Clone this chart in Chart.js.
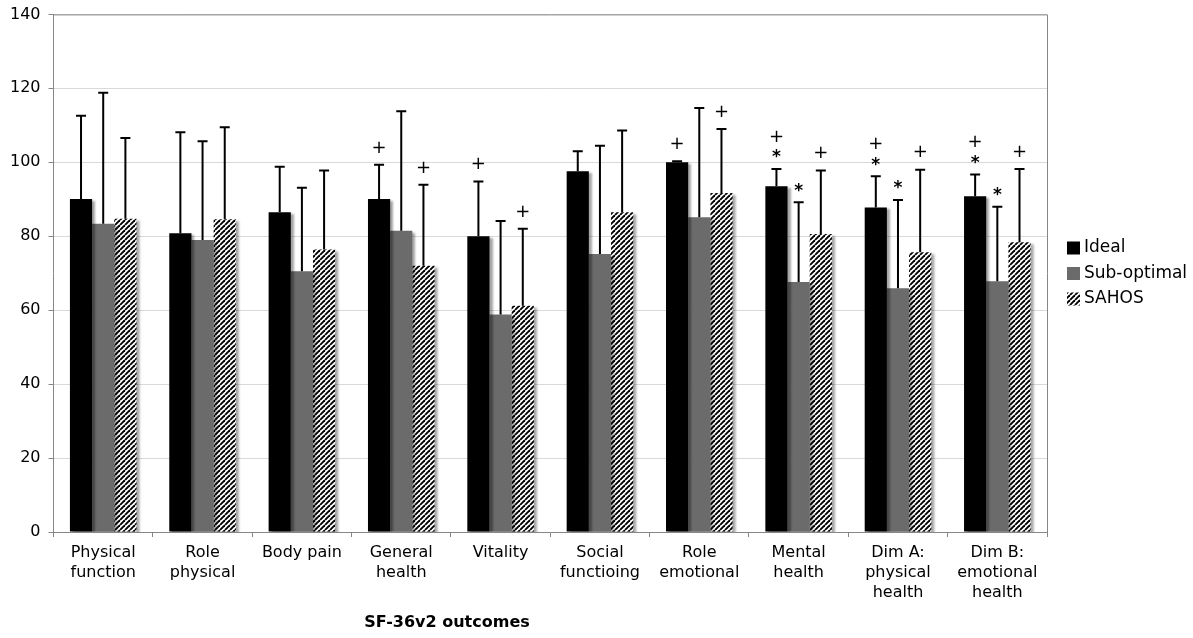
<!DOCTYPE html>
<html>
<head>
<meta charset="utf-8">
<script src="https://cdn.jsdelivr.net/npm/chart.js@4.4.1/dist/chart.umd.min.js"></script>
<style>
  html, body { margin: 0; padding: 0; background: #fff; }
  #wrap { width: 1193px; height: 638px; }
</style>
</head>
<body>
<div id="wrap"><canvas id="sfChart" width="1193" height="638"></canvas></div>
<script>
// kategori SF-36v2
const categories = [
    ['Physical', 'function'], ['Role', 'physical'], ['Body pain'], ['General', 'health'], ['Vitality'],
    ['Social', 'functioing'], ['Role', 'emotional'], ['Mental', 'health'],
    ['Dim A:', 'physical', 'health'], ['Dim B:', 'emotional', 'health']
];
const seriesNames = ['Ideal', 'Sub-optimal', 'SAHOS'];
const yTicks = [0, 20, 40, 60, 80, 100, 120, 140];

// rata-rata per kelompok
const idealMean = [90.1, 80.8, 86.5, 90.1, 80.0, 97.6, 100.0, 93.5, 87.8, 90.8];
const subMean   = [83.4, 79.0, 70.5, 81.5, 58.8, 75.2, 85.1, 67.6, 65.9, 67.8];
const sahosMean = [84.7, 84.6, 76.4, 72.0, 61.2, 86.5, 91.7, 80.6, 75.7, 78.4];

// simpangan baku (error bar ke atas)
const idealSD = [22.5, 27.3, 12.3, 9.2, 14.8, 5.4, 0.3, 4.7, 8.4, 5.9];
const subSD   = [35.4, 26.7, 22.6, 32.3, 25.3, 29.3, 29.6, 21.6, 23.9, 20.2];
const sahosSD = [21.9, 24.9, 21.4, 21.9, 20.8, 22.1, 17.3, 17.2, 22.3, 19.8];

// tanda signifikansi, dari bawah ke atas
const idealMarks = ['', '', '', '+', '+', '', '+', '*+', '*+', '*+'];
const subMarks   = ['', '', '', '', '', '', '', '*', '*', '*'];
const sahosMarks = ['', '', '', '+', '+', '', '+', '+', '+', '+'];

const axisTitle = 'SF-36v2 outcomes';

function makeHatch() {
    const c = document.createElement('canvas');
    c.width = 5; c.height = 5;
    const g = c.getContext('2d');
    g.fillStyle = '#fff';
    g.fillRect(0, 0, 5, 5);
    g.strokeStyle = '#000';
    g.lineWidth = 1.9;
    for (let o = -5; o <= 5; o += 5) {
        g.beginPath();
        g.moveTo(o, 5);
        g.lineTo(o + 5, 0);
        g.stroke();
    }
    return g.createPattern(c, 'repeat');
}

const hatch = makeHatch();
const errors = [idealSD, subSD, sahosSD];
const marks = [idealMarks, subMarks, sahosMarks];
const GRID = '#d9d9d9', AXIS = '#868686';

// bayangan tipis di kanan bawah batang
const shadowPlugin = {
    id: 'barShadow',
    beforeDatasetsDraw(chart) {
        const ctx = chart.ctx;
        ctx.save();
        ctx.shadowColor = 'rgba(0,0,0,0.35)';
        ctx.shadowBlur = 2;
        ctx.shadowOffsetX = 3;
        ctx.shadowOffsetY = 2;
    },
    afterDatasetsDraw(chart) {
        chart.ctx.restore();
    }
};

const extrasPlugin = {
    id: 'extras',
    afterDatasetsDraw(chart) {
        const ctx = chart.ctx;
        const y = chart.scales.y;
        const area = chart.chartArea;
        ctx.save();
        // bingkai atas & kanan
        ctx.strokeStyle = AXIS;
        ctx.lineWidth = 1;
        ctx.beginPath();
        ctx.moveTo(area.left, area.top + 0.5);
        ctx.lineTo(area.right + 0.5, area.top + 0.5);
        ctx.lineTo(area.right + 0.5, area.bottom);
        ctx.stroke();

        chart.data.datasets.forEach((ds, di) => {
            const meta = chart.getDatasetMeta(di);
            meta.data.forEach((bar, i) => {
                const top = y.getPixelForValue(ds.data[i]);
                const end = y.getPixelForValue(ds.data[i] + errors[di][i]);
                ctx.strokeStyle = '#000';
                ctx.lineWidth = 2;
                ctx.beginPath();
                ctx.moveTo(bar.x, top);
                ctx.lineTo(bar.x, end);
                ctx.moveTo(bar.x - 5, end);
                ctx.lineTo(bar.x + 5, end);
                ctx.stroke();
                // tanda + dan *
                const m = marks[di][i];
                ctx.fillStyle = '#000';
                ctx.textAlign = 'center';
                ctx.textBaseline = 'middle';
                for (let k = 0; k < m.length; k++) {
                    const ch = m[k];
                    let cy = end - 16 - k * 15;
                    if (ch === '*') {
                        ctx.font = 'bold 17px "DejaVu Sans"';
                        cy += 5;
                    } else {
                        ctx.font = '18px "DejaVu Sans"';
                        cy -= 1;
                    }
                    ctx.fillText(ch, bar.x, cy);
                }
            });
        });

        // legenda
        const fills = ['#000000', '#6b6b6b', hatch];
        ctx.font = '17px "DejaVu Sans"';
        ctx.textAlign = 'left';
        ctx.textBaseline = 'middle';
        seriesNames.forEach((name, k) => {
            const cy = 248 + k * 25.5;
            ctx.fillStyle = fills[k];
            ctx.fillRect(1067, cy - 6.5, 13, 13);
            ctx.fillStyle = '#000';
            ctx.fillText(name, 1084, cy);
        });

        // judul sumbu x
        ctx.font = 'bold 16px "DejaVu Sans"';
        ctx.textAlign = 'center';
        ctx.fillText(axisTitle, 447, 623);
        ctx.restore();
    }
};

new Chart(document.getElementById('sfChart').getContext('2d'), {
    type: 'bar',
    data: {
        labels: categories,
        datasets: [
            { label: seriesNames[0], data: idealMean, backgroundColor: '#000000', borderWidth: 0 },
            { label: seriesNames[1], data: subMean, backgroundColor: '#6b6b6b', borderWidth: 0 },
            { label: seriesNames[2], data: sahosMean, backgroundColor: hatch, borderWidth: 0 }
        ]
    },
    options: {
        responsive: false,
        animation: false,
        devicePixelRatio: 1,
        layout: { padding: { left: 2, right: 146, top: 0, bottom: 29 } },
        datasets: { bar: { categoryPercentage: 0.67, barPercentage: 1.0 } },
        plugins: {
            legend: { display: false },
            tooltip: { enabled: false }
        },
        scales: {
            x: {
                grid: { display: true, drawOnChartArea: false, offset: true, tickLength: 5, color: AXIS },
                border: { color: AXIS },
                ticks: { color: '#000', padding: 6, font: { family: 'DejaVu Sans', size: 16, lineHeight: 1.25 }, maxRotation: 0, autoSkip: false }
            },
            y: {
                min: 0, max: 140,
                afterBuildTicks(scale) { scale.ticks = yTicks.map(v => ({ value: v })); },
                grid: { color: ctx => (ctx.tick && ctx.tick.value === 0 ? 'rgba(0,0,0,0)' : GRID), tickColor: AXIS, tickLength: 5 },
                border: { color: AXIS },
                ticks: { color: '#000', padding: 8, font: { family: 'DejaVu Sans', size: 16, lineHeight: 0.8 } }
            }
        }
    },
    plugins: [shadowPlugin, extrasPlugin]
});
</script>
</body>
</html>
